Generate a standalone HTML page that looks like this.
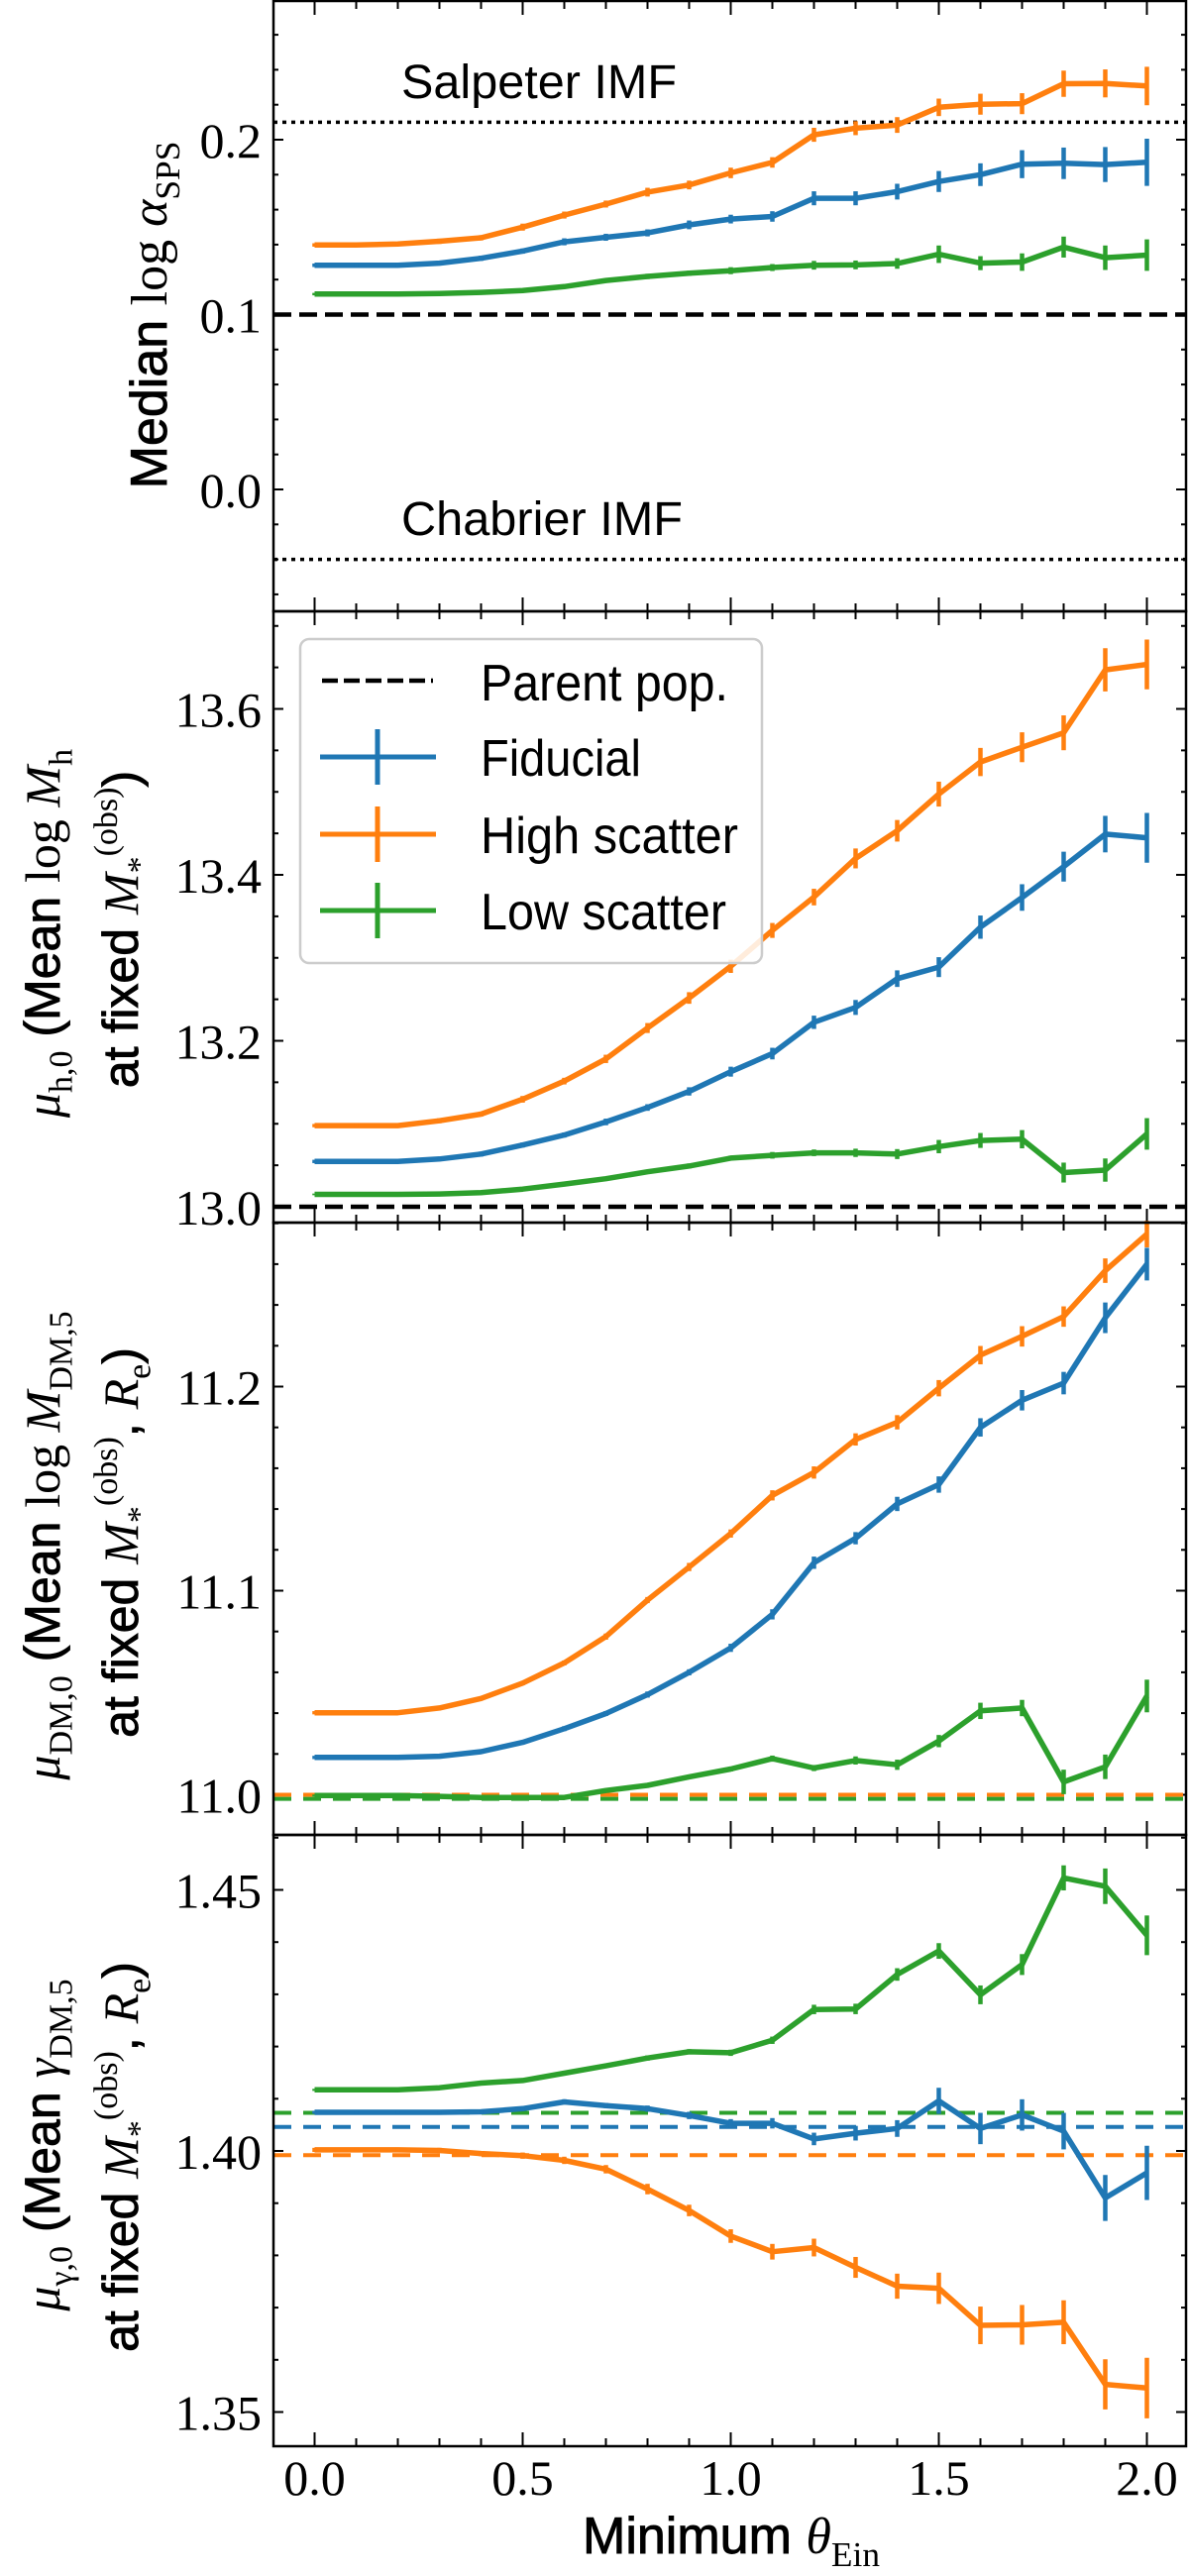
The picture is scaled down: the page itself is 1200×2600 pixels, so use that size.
<!DOCTYPE html>
<html><head><meta charset="utf-8"><title>Selection bias vs minimum Einstein radius</title>
<style>html,body{margin:0;padding:0;background:#fff;}svg{display:block;}</style></head>
<body>
<svg id="fig" xmlns="http://www.w3.org/2000/svg" width="1200" height="2600" viewBox="0 0 1200 2600"></svg>
<script>
const thetaMin = [0.0,0.1,0.2,0.3,0.4,0.5,0.6,0.7,0.8,0.9,1.0,1.1,1.2,1.3,1.4,1.5,1.6,1.7,1.8,1.9,2.0];
const xTicks = [0.0,0.5,1.0,1.5,2.0];
const xTickLabels = ["0.0","0.5","1.0","1.5","2.0"];

// Panel 1: median log alpha_SPS
const p1Fid  = [0.1282,0.1282,0.1282,0.1294,0.1322,0.1363,0.1416,0.1442,0.1467,0.1513,0.1546,0.1561,0.1665,0.1665,0.1703,0.1761,0.1800,0.1860,0.1865,0.1858,0.1871];
const p1FidE = [0.001,0.001,0.001,0.001,0.0015,0.0015,0.002,0.002,0.002,0.0025,0.0025,0.003,0.004,0.004,0.0045,0.006,0.0065,0.008,0.009,0.01,0.0135];
const p1High = [0.1398,0.1398,0.1404,0.1419,0.1439,0.1500,0.1569,0.1632,0.1700,0.1741,0.1810,0.1870,0.2028,0.2066,0.2084,0.2185,0.2203,0.2206,0.2320,0.2322,0.2307];
const p1HighE= [0.001,0.001,0.001,0.0015,0.0015,0.002,0.002,0.002,0.0025,0.0025,0.003,0.003,0.004,0.004,0.0045,0.005,0.006,0.006,0.0075,0.008,0.011];
const p1Low  = [0.1117,0.1117,0.1117,0.1120,0.1127,0.1137,0.1160,0.1195,0.1218,0.1236,0.1251,0.1269,0.1282,0.1284,0.1292,0.1345,0.1294,0.1300,0.1386,0.1325,0.1340];
const p1LowE = [0.0007,0.0007,0.0007,0.0007,0.0008,0.001,0.001,0.0012,0.0015,0.0015,0.002,0.002,0.0025,0.0025,0.003,0.005,0.004,0.005,0.006,0.007,0.009];
const p1Parent = 0.1, p1Salpeter = 0.21, p1Chabrier = -0.04;
const p1Ticks = ["0.0","0.1","0.2"];

// Panel 2: mu_h,0
const p2Fid  = [13.0546,13.0546,13.0546,13.0576,13.0635,13.0744,13.0864,13.1022,13.1196,13.1390,13.1628,13.1846,13.2223,13.2402,13.2749,13.2888,13.3370,13.3727,13.4099,13.4491,13.4447];
const p2FidE = [0.002,0.002,0.002,0.002,0.003,0.003,0.003,0.004,0.004,0.005,0.006,0.007,0.008,0.009,0.01,0.012,0.014,0.016,0.018,0.022,0.03];
const p2High = [13.0978,13.0978,13.0978,13.1037,13.1117,13.1295,13.1514,13.1782,13.2154,13.2516,13.2898,13.3330,13.3732,13.4198,13.4531,13.4973,13.5360,13.5538,13.5712,13.6471,13.6536];
const p2HighE= [0.002,0.002,0.002,0.003,0.003,0.004,0.004,0.005,0.006,0.007,0.008,0.009,0.01,0.012,0.013,0.015,0.017,0.018,0.021,0.026,0.03];
const p2Low  = [13.0149,13.0149,13.0149,13.0154,13.0169,13.0213,13.0273,13.0338,13.0422,13.0491,13.0586,13.0620,13.0650,13.0650,13.0635,13.0725,13.0799,13.0814,13.0412,13.0442,13.0878];
const p2LowE = [0.001,0.001,0.001,0.001,0.001,0.002,0.002,0.002,0.002,0.003,0.003,0.004,0.004,0.005,0.006,0.008,0.009,0.011,0.012,0.014,0.019];
const p2Parent = 13.0;
const p2Ticks = ["13.0","13.2","13.4","13.6"];

// Panel 3: mu_DM,0
const p3Fid  = [11.0183,11.0183,11.0183,11.0189,11.0211,11.0257,11.0324,11.0398,11.0491,11.0600,11.0720,11.0884,11.1137,11.1257,11.1425,11.1520,11.1800,11.1933,11.2017,11.2337,11.2600];
const p3FidE = [0.0008,0.0008,0.0008,0.001,0.001,0.001,0.0012,0.0012,0.0015,0.0015,0.002,0.0025,0.003,0.003,0.0035,0.004,0.0045,0.005,0.0055,0.0075,0.008];
const p3High = [11.0402,11.0402,11.0402,11.0425,11.0472,11.0547,11.0646,11.0775,11.0954,11.1116,11.1280,11.1467,11.1579,11.1741,11.1825,11.1992,11.2154,11.2246,11.2343,11.2568,11.2747];
const p3HighE= [0.0008,0.0008,0.0008,0.001,0.001,0.001,0.0012,0.0015,0.0015,0.002,0.002,0.0025,0.003,0.003,0.0035,0.004,0.0045,0.005,0.005,0.006,0.0065];
const p3Low  = [10.9996,10.9996,10.9996,10.9992,10.9987,10.9987,10.9987,11.0021,11.0046,11.0088,11.0126,11.0177,11.0131,11.0168,11.0147,11.0263,11.0411,11.0425,11.0063,11.0137,11.0484];
const p3LowE = [0.0005,0.0005,0.0005,0.0005,0.0005,0.0006,0.0006,0.0007,0.0008,0.001,0.0012,0.0015,0.0015,0.002,0.0025,0.003,0.004,0.004,0.006,0.006,0.008];
const p3ParentFid = 11.0, p3ParentHigh = 11.0, p3ParentLow = 10.998;
const p3Ticks = ["11.0","11.1","11.2"];

// Panel 4: mu_gamma,0
const p4Fid  = [1.4074,1.4074,1.4074,1.4074,1.4075,1.4081,1.4094,1.4087,1.4081,1.4068,1.4053,1.4053,1.4023,1.4034,1.4043,1.4096,1.4043,1.4069,1.4038,1.3910,1.3958];
const p4FidE = [0.0003,0.0003,0.0003,0.0003,0.0004,0.0004,0.0005,0.0005,0.0006,0.0007,0.0008,0.001,0.0012,0.0014,0.0016,0.0025,0.003,0.003,0.0035,0.0044,0.0052];
const p4High = [1.4002,1.4002,1.4002,1.4001,1.3995,1.3991,1.3982,1.3965,1.3927,1.3886,1.3837,1.3807,1.3815,1.3777,1.3741,1.3737,1.3666,1.3667,1.3672,1.3553,1.3546];
const p4HighE= [0.0004,0.0004,0.0004,0.0005,0.0005,0.0006,0.0007,0.0008,0.001,0.0011,0.0013,0.0015,0.0017,0.002,0.0024,0.003,0.0036,0.0038,0.0042,0.0048,0.0058];
const p4Low  = [1.4117,1.4117,1.4117,1.4121,1.4130,1.4135,1.4149,1.4163,1.4178,1.4190,1.4188,1.4212,1.4271,1.4272,1.4338,1.4383,1.4299,1.4357,1.4523,1.4507,1.4413];
const p4LowE = [0.0002,0.0002,0.0002,0.0003,0.0003,0.0003,0.0004,0.0004,0.0005,0.0005,0.0006,0.0007,0.0009,0.001,0.0012,0.0015,0.0018,0.002,0.0024,0.0034,0.0038];
const p4ParentFid = 1.4046, p4ParentHigh = 1.3992, p4ParentLow = 1.4073;
const p4Ticks = ["1.35","1.40","1.45"];

const NS = "http://www.w3.org/2000/svg";
const svg = document.getElementById('fig');
const C = {fid:'#1f77b4', high:'#ff7f0e', low:'#2ca02c'};
const AX_L = 276, AX_R = 1197;
const X0 = 317.5, XU = 420;
function xs(v){ return X0 + v*XU; }
function mk(tag, attrs, parent){ const e=document.createElementNS(NS,tag); for(const k in attrs) e.setAttribute(k,attrs[k]); (parent||svg).appendChild(e); return e; }

const panels = [
  {name:'alpha-panel', top:1, bot:617, refV:0.0, refY:494, ppu:1765, minor:0.02, major:0.1, tickVals:[0,0.1,0.2], tickLabels:p1Ticks,
   series:[[p1Fid,p1FidE,C.fid,'fiducial'],[p1High,p1HighE,C.high,'high-scatter'],[p1Low,p1LowE,C.low,'low-scatter']]},
  {name:'halo-mass-panel', top:617, bot:1234, refV:13.0, refY:1218, ppu:837.5, minor:0.05, major:0.2, tickVals:[13.0,13.2,13.4,13.6], tickLabels:p2Ticks,
   series:[[p2Fid,p2FidE,C.fid,'fiducial'],[p2High,p2HighE,C.high,'high-scatter'],[p2Low,p2LowE,C.low,'low-scatter']]},
  {name:'dm-mass-panel', top:1234, bot:1852, refV:11.0, refY:1811.5, ppu:2060, minor:0.02, major:0.1, tickVals:[11.0,11.1,11.2], tickLabels:p3Ticks,
   series:[[p3Fid,p3FidE,C.fid,'fiducial'],[p3High,p3HighE,C.high,'high-scatter'],[p3Low,p3LowE,C.low,'low-scatter']]},
  {name:'dm-slope-panel', top:1852, bot:2469, refV:1.40, refY:2171, ppu:5270, minor:0.01, major:0.05, tickVals:[1.35,1.40,1.45], tickLabels:p4Ticks,
   series:[[p4Fid,p4FidE,C.fid,'fiducial'],[p4High,p4HighE,C.high,'high-scatter'],[p4Low,p4LowE,C.low,'low-scatter']]}
];

function hline(p, y, color, dash, w, name){
  const l = mk('line',{x1:AX_L,x2:AX_R,y1:y,y2:y,stroke:color,'stroke-width':w,'stroke-dasharray':dash});
  
  
}

panels.forEach((p,pi)=>{
  const ys = v => p.refY - (v - p.refV)*p.ppu;
  p.ys = ys;
  const g = mk('g',{});
  
  
  const vmin = p.refV - (p.bot - p.refY)/p.ppu, vmax = p.refV + (p.refY - p.top)/p.ppu;
  const start = Math.ceil(vmin/p.minor - 1e-6);
  for(let k=start; k*p.minor <= vmax+1e-9; k++){
    const v = k*p.minor, y = ys(v);
    const isMaj = Math.abs(v/p.major - Math.round(v/p.major)) < 1e-6;
    const len = isMaj ? 10 : 5;
    mk('line',{x1:AX_L,x2:AX_L+len,y1:y,y2:y,stroke:'#000','stroke-width':2},g);
    mk('line',{x1:AX_R-len,x2:AX_R,y1:y,y2:y,stroke:'#000','stroke-width':2},g);
  }
  p.tickVals.forEach((v,i)=>{
    const t = mk('text',{x:264,y:ys(v)+18,'text-anchor':'end','font-family':'Liberation Serif, serif','font-size':50,fill:'#000'},g);
    t.textContent = p.tickLabels[i];
    
    
  });
  for(let k=0;k<=20;k++){
    const v=k*0.1, x=xs(v), maj = (k%5===0), len = maj?14:8;
    mk('line',{x1:x,x2:x,y1:p.top,y2:p.top+len,stroke:'#000','stroke-width':2},g);
    mk('line',{x1:x,x2:x,y1:p.bot-len,y2:p.bot,stroke:'#000','stroke-width':2},g);
  }
});

const P = panels;
hline(P[0], P[0].ys(p1Salpeter), '#000', '4 5', 3.5, 'salpeter-line');
hline(P[0], P[0].ys(p1Chabrier), '#000', '4 5', 3.5, 'chabrier-line');
hline(P[0], P[0].ys(p1Parent), '#000', '18 8', 4.5, 'parent-line');
hline(P[1], P[1].ys(p2Parent), '#000', '18 8', 4.5, 'parent-line');
hline(P[2], P[2].ys(p3ParentFid), C.fid, '18 12', 4, 'parent-line-fiducial');
hline(P[2], P[2].ys(p3ParentHigh), C.high, '18 12', 4, 'parent-line-high');
hline(P[2], P[2].ys(p3ParentLow), C.low, '18 12', 4, 'parent-line-low');
hline(P[3], P[3].ys(p4ParentFid), C.fid, '18 12', 4, 'parent-line-fiducial');
hline(P[3], P[3].ys(p4ParentHigh), C.high, '18 12', 4, 'parent-line-high');
hline(P[3], P[3].ys(p4ParentLow), C.low, '18 12', 4, 'parent-line-low');

panels.forEach(p=>{
  p.series.forEach(([vals, errs, color, nm])=>{
    const g = mk('g',{});
    
    
    const pts = vals.map((v,i)=> xs(thetaMin[i]).toFixed(1)+','+p.ys(v).toFixed(1)).join(' ');
    const pl = mk('polyline',{points:pts,fill:'none',stroke:color,'stroke-width':5.5,'stroke-linejoin':'round'},g);
    
    
    vals.forEach((v,i)=>{
      const x = xs(thetaMin[i]);
      const e = mk('line',{x1:x,x2:x,y1:p.ys(v-errs[i]),y2:p.ys(v+errs[i]),stroke:color,'stroke-width':4.5},g);
      
      
    });
  });
});

panels.forEach(p=>{
  const r = mk('rect',{x:AX_L,y:p.top,width:AX_R-AX_L,height:p.bot-p.top,fill:'none',stroke:'#000','stroke-width':2.5});
  
  
});

xTicks.forEach((v,i)=>{
  const t = mk('text',{x:xs(v),y:2518,'text-anchor':'middle','font-family':'Liberation Serif, serif','font-size':50,fill:'#000'});
  t.textContent = xTickLabels[i];
  
  
});

const FF = {sans:'Liberation Sans, sans-serif', serif:'Liberation Serif, serif', ital:'Liberation Serif, serif'};
function rich(parts, x, y, size, anchor, rotate, name){
  const t = mk('text',{x:x,y:y,'text-anchor':anchor,'font-size':size,fill:'#000'});
  if(rotate) t.setAttribute('transform','rotate(-90 '+x+' '+y+')');
  
  
  let cur = 0;
  parts.forEach(pt=>{
    const [txt, font, pos] = pt;
    const s = mk('tspan',{'font-family':FF[font]},t);
    if(font==='ital') s.setAttribute('font-style','italic');
    if(font==='sans'){ s.setAttribute('stroke','#000'); s.setAttribute('stroke-width','0.9'); }
    let target = 0, fs = size;
    if(pos==='sub'){ target = size*0.25; fs = size*0.68; }
    if(pos==='sup'){ target = -size*0.42; fs = size*0.68; }
    s.setAttribute('font-size', fs);
    s.setAttribute('dy', target - cur);
    cur = target;
    s.textContent = txt;
  });
  return t;
}

rich([['Median ','sans'],['log ','serif'],['α','ital'],['SPS','serif','sub']], 168, 318, 52, 'middle', true, 'y-axis-title-alpha');
rich([['μ','ital'],['h,0','serif','sub'],[' (Mean ','sans'],['log ','serif'],['M','ital'],['h','serif','sub']], 60, 942, 50, 'middle', true, 'y-axis-title-halo-line1');
rich([['at fixed ','sans'],['M','ital'],['*','serif','sub'],['(obs)','serif','sup'],[')','sans']], 139, 938, 50, 'middle', true, 'y-axis-title-halo-line2');
rich([['μ','ital'],['DM,0','serif','sub'],[' (Mean ','sans'],['log ','serif'],['M','ital'],['DM,5','serif','sub']], 60, 1560, 50, 'middle', true, 'y-axis-title-dm-line1');
rich([['at fixed ','sans'],['M','ital'],['*','serif','sub'],['(obs)','serif','sup'],[', ','sans'],['R','ital'],['e','serif','sub'],[')','sans']], 139, 1557, 50, 'middle', true, 'y-axis-title-dm-line2');
rich([['μ','ital'],['γ,0','serif','sub'],[' (Mean ','sans'],['γ','ital'],['DM,5','serif','sub']], 60, 2165, 50, 'middle', true, 'y-axis-title-slope-line1');
rich([['at fixed ','sans'],['M','ital'],['*','serif','sub'],['(obs)','serif','sup'],[', ','sans'],['R','ital'],['e','serif','sub'],[')','sans']], 139, 2177, 50, 'middle', true, 'y-axis-title-slope-line2');
rich([['Minimum ','sans'],['θ','ital'],['Ein','serif','sub']], 738, 2577, 52, 'middle', false, 'x-axis-title');

const sal = mk('text',{x:405,y:99,'font-family':'Liberation Sans, sans-serif','font-size':48,textLength:278,lengthAdjust:'spacingAndGlyphs',fill:'#000'});
sal.textContent = 'Salpeter IMF';


const cha = mk('text',{x:405,y:540,'font-family':'Liberation Sans, sans-serif','font-size':48,textLength:284,lengthAdjust:'spacingAndGlyphs',fill:'#000'});
cha.textContent = 'Chabrier IMF';



const lg = mk('g',{});


mk('rect',{x:303,y:645,width:466,height:327,rx:9,ry:9,fill:'#fff','fill-opacity':0.85,stroke:'#cccccc','stroke-width':2.5},lg);
const legItems = [['Parent pop.','#000',687,707,true],['Fiducial',C.fid,764,783,false],['High scatter',C.high,842,861,false],['Low scatter',C.low,919,938,false]];
const legLens = [250,162,260,248];
legItems.forEach((it,i)=>{
  const [label,color,ly,by,dashed] = it;
  const e = mk('g',{},lg);
  
  
  if(dashed){
    mk('line',{x1:325,x2:437,y1:ly,y2:ly,stroke:color,'stroke-width':4.5,'stroke-dasharray':'16 6'},e);
  } else {
    mk('line',{x1:323,x2:440,y1:ly,y2:ly,stroke:color,'stroke-width':5},e);
    mk('line',{x1:381,x2:381,y1:ly-28,y2:ly+28,stroke:color,'stroke-width':5},e);
  }
  const t = mk('text',{x:485,y:by,'font-family':'Liberation Sans, sans-serif','font-size':52,textLength:legLens[i],lengthAdjust:'spacingAndGlyphs',fill:'#000'},e);
  t.textContent = label;
});
</script>
</body></html>
